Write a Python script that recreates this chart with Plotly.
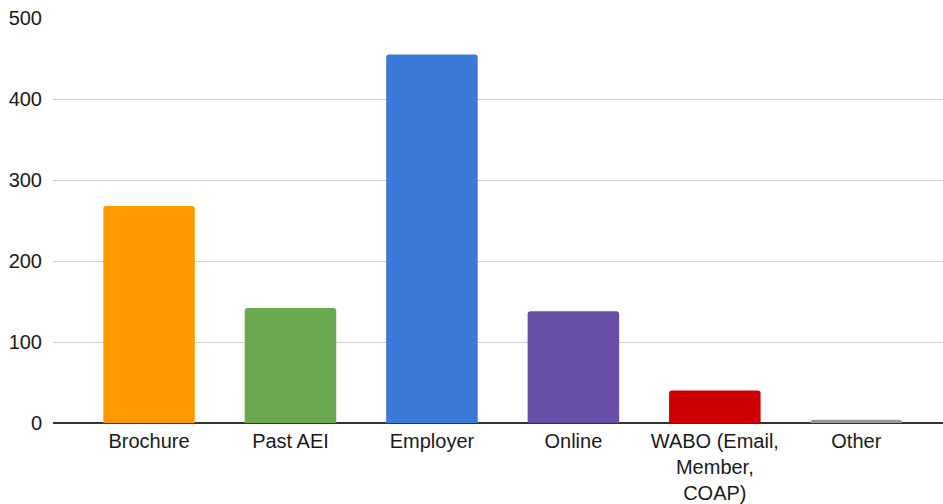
import plotly.graph_objects as go

categories = ["Brochure", "Past AEI", "Employer", "Online", "WABO (Email,<br>Member,<br>COAP)", "Other"]
values = [268, 142, 455, 138, 40, 4]
colors = ["#ff9900", "#6aa84f", "#3c78d8", "#674ea7", "#cc0000", "#999999"]
y_ticks = [0, 100, 200, 300, 400, 500]

fig = go.Figure(go.Bar(
    x=list(range(len(categories))),
    y=values,
    marker=dict(color=colors, cornerradius=3, line=dict(width=0)),
    width=0.647,
))

fig.update_layout(
    width=943, height=504,
    margin=dict(l=53, r=0, t=18, b=81),
    paper_bgcolor="white", plot_bgcolor="white",
    font=dict(family="Liberation Sans, Arial, sans-serif", size=20, color="#1a1a1a"),
    showlegend=False,
)
fig.update_xaxes(
    tickmode="array", tickvals=list(range(len(categories))), ticktext=categories,
    range=[-0.679, 5.613], showgrid=False, zeroline=False,
    showline=False, ticks="", ticklabelstandoff=4, automargin=False,
)
fig.update_yaxes(
    range=[0, 500.01], tickvals=y_ticks, showgrid=True, gridcolor="#d0d0d0", gridwidth=1,
    zeroline=True, zerolinecolor="#333333", zerolinewidth=1.5,
    ticks="", ticklabelstandoff=10, fixedrange=True, automargin=False,
)

fig.write_html("out.html", config={"displayModeBar": False},
               post_script="document.body.style.margin='0';")
